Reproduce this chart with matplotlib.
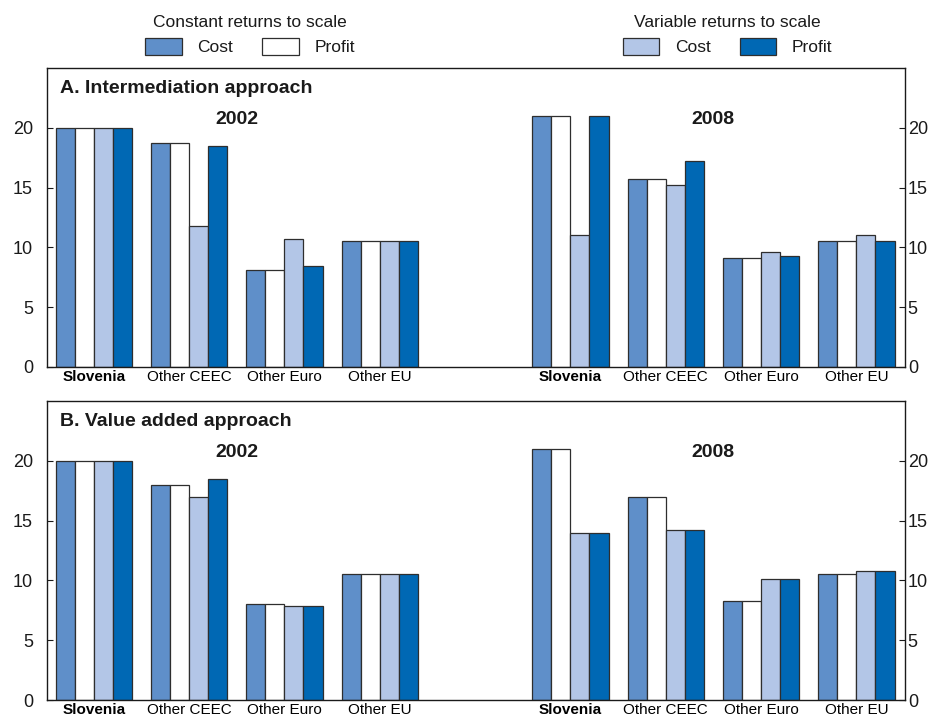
import matplotlib
matplotlib.use("Agg")
import matplotlib.pyplot as plt
import numpy as np

plt.rcParams['font.family'] = ['Liberation Sans', 'DejaVu Sans']

categories = ['Slovenia', 'Other CEEC', 'Other Euro', 'Other EU']
years = ['2002', '2008']
series_names = ['Cost', 'Profit', 'Cost', 'Profit']

# values per panel: 2002 groups first, then 2008 groups
a_crs_cost = [20.0, 18.75, 8.1, 10.55, 21.0, 15.75, 9.1, 10.5]
a_crs_profit = [20.0, 18.75, 8.1, 10.55, 21.0, 15.75, 9.1, 10.5]
a_vrs_cost = [20.0, 11.75, 10.7, 10.55, 11.0, 15.25, 9.6, 11.0]
a_vrs_profit = [20.0, 18.5, 8.45, 10.55, 21.0, 17.25, 9.3, 10.5]

b_crs_cost = [20.0, 18.0, 8.0, 10.5, 21.0, 17.0, 8.3, 10.5]
b_crs_profit = [20.0, 18.0, 8.0, 10.5, 21.0, 17.0, 8.3, 10.5]
b_vrs_cost = [20.0, 17.0, 7.9, 10.5, 14.0, 14.2, 10.15, 10.8]
b_vrs_profit = [20.0, 18.5, 7.9, 10.5, 14.0, 14.2, 10.15, 10.8]

panel_titles = ['A. Intermediation approach', 'B. Value added approach']

colors = ['#5f8fc9', '#ffffff', '#b3c6e7', '#0068b4']
edge = '#2e2e2e'

fig = plt.figure(figsize=(9.4, 7.19), dpi=100)
ax_a = fig.add_axes([0.05, 0.4896, 0.9128, 0.4158])
ax_b = fig.add_axes([0.05, 0.0264, 0.9128, 0.4158])

x = np.array([0, 1, 2, 3, 5, 6, 7, 8], dtype=float)
width = 0.2
offsets = [-0.3, -0.1, 0.1, 0.3]

panels = [
    (ax_a, [a_crs_cost, a_crs_profit, a_vrs_cost, a_vrs_profit], panel_titles[0]),
    (ax_b, [b_crs_cost, b_crs_profit, b_vrs_cost, b_vrs_profit], panel_titles[1]),
]

handles = []
for ax, data, title in panels:
    bars = []
    for vals, off, col in zip(data, offsets, colors):
        b = ax.bar(x + off, vals, width, color=col, edgecolor=edge,
                   linewidth=0.9, zorder=2)
        bars.append(b)
    if not handles:
        handles = bars

    ax.set_xlim(-0.49, 8.51)
    ax.set_ylim(0, 25)
    ax.set_yticks([0, 5, 10, 15, 20])
    ax.tick_params(axis='y', direction='in', length=4, width=0.8,
                   labelsize=13, pad=10, colors='#1a1a1a')
    ax.set_xticks(x)
    ax.set_xticklabels(categories * 2, fontsize=11)
    ax.tick_params(axis='x', length=0, pad=2.5)
    for lab in ax.get_xticklabels():
        if lab.get_text() == 'Slovenia':
            lab.set_fontweight('bold')
    for s in ax.spines.values():
        s.set_linewidth(1.0)
        s.set_color('#1a1a1a')

    # right-hand axis labels
    axr = ax.twinx()
    axr.set_ylim(0, 25)
    axr.set_yticks([0, 5, 10, 15, 20])
    axr.tick_params(axis='y', direction='in', length=4, width=0.8,
                    labelsize=13, pad=2, colors='#1a1a1a')
    for s in axr.spines.values():
        s.set_visible(False)

    ax.text(0.015, 0.93, title, transform=ax.transAxes, fontsize=14,
            fontweight='bold', ha='left', va='center', color='#1a1a1a')
    ax.text(1.5, 20.7, years[0], fontsize=14, fontweight='bold',
            ha='center', va='center', color='#1a1a1a')
    ax.text(6.5, 20.7, years[1], fontsize=14, fontweight='bold',
            ha='center', va='center', color='#1a1a1a')

leg_kw = dict(ncol=2, frameon=False, loc='upper center', fontsize=12.5,
              title_fontsize=12.5, handlelength=2.1, handleheight=1.05,
              handletextpad=0.9, columnspacing=1.7, borderaxespad=0.2)
leg1 = fig.legend([handles[0], handles[1]], series_names[:2],
                  title='Constant returns to scale',
                  bbox_to_anchor=(0.266, 0.994), **leg_kw)
leg2 = fig.legend([handles[2], handles[3]], series_names[2:],
                  title='Variable returns to scale',
                  bbox_to_anchor=(0.774, 0.994), **leg_kw)
for lg in (leg1, leg2):
    lg.get_title().set_color('#1a1a1a')
    for t in lg.get_texts():
        t.set_color('#1a1a1a')

fig.savefig('out.png', dpi=100)
